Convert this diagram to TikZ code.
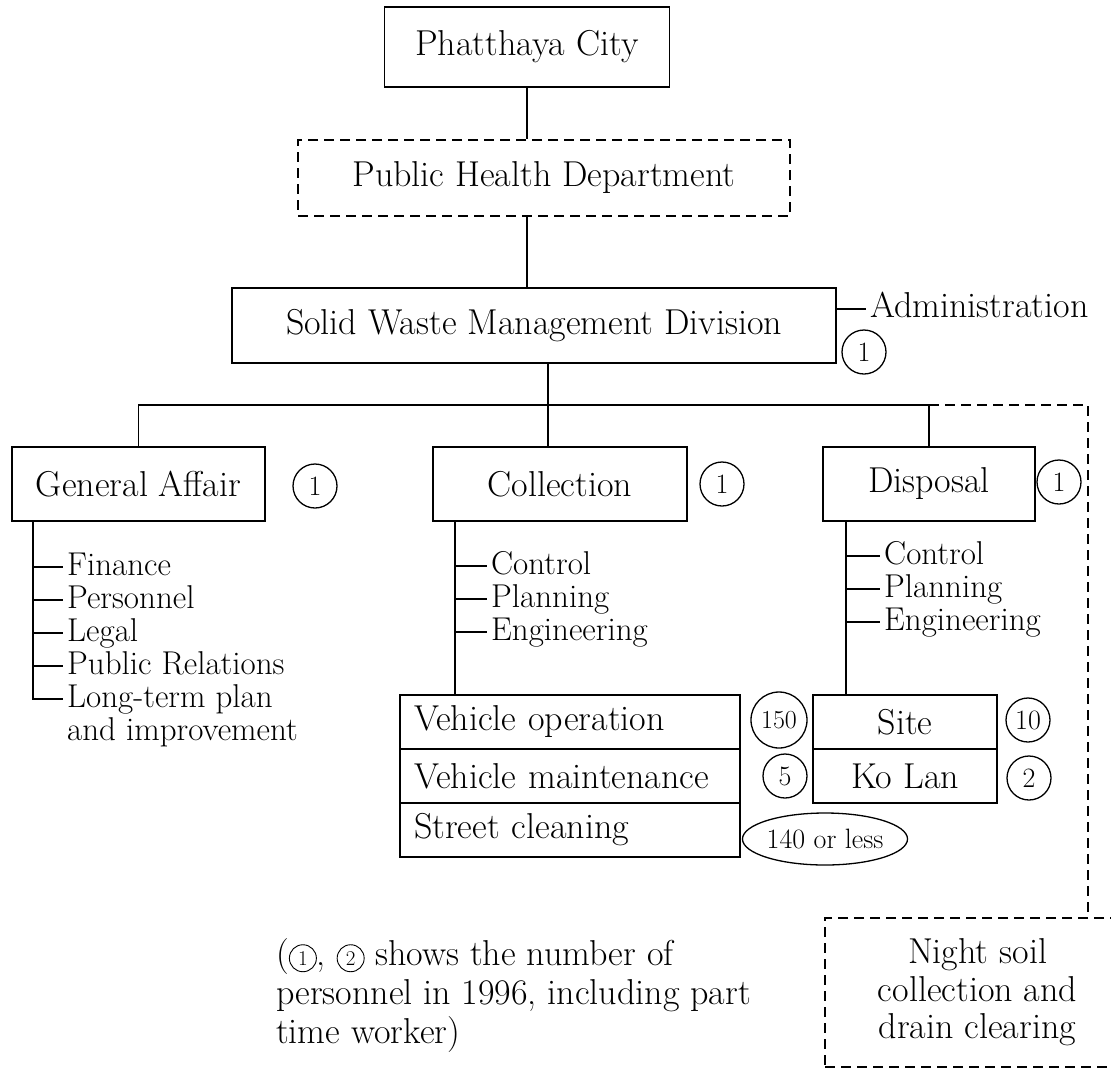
\documentclass[tikz,border=0pt]{standalone}
\usepackage{fontspec}
\usetikzlibrary{shapes.geometric}
% small circled digit used inside running text
\newcommand{\cnum}[1]{\tikz[baseline=(d.base)]\node[draw, circle, line width=0.9pt,
  inner sep=0.5pt, minimum size=27pt, font=\fontsize{21}{21}\selectfont] (d) {#1};}
\begin{document}
\begin{tikzpicture}[x=1pt,y=-1pt,
  every node/.style={font=\fontsize{36}{39}\selectfont},
  unit/.style={draw, line width=1.5pt, inner sep=0pt, minimum height=74pt},
  dunit/.style={unit, dash pattern=on 10pt off 6pt},
  row/.style={draw, line width=1.5pt, minimum height=54pt, inner ysep=0pt},
  count/.style={draw, circle, line width=1.3pt, inner sep=0pt, minimum size=44pt,
    font=\fontsize{28}{30}\selectfont},
  item/.style={anchor=west, inner xsep=4pt, inner ysep=0pt, text height=23pt, text depth=7pt,
    font=\fontsize{33}{36}\selectfont},
  link/.style={line width=1.5pt},
  dlink/.style={line width=1.5pt, dash pattern=on 10pt off 6pt},
]
\useasboundingbox (0,0) rectangle (1111,1069);

% upper chain
\node[unit, minimum width=285pt, minimum height=80pt] (city) at (527,47) {Phatthaya City};
\node[dunit, minimum width=492pt, minimum height=76pt] (health) at (544,178) {Public Health Department};
\node[unit, minimum width=604pt, minimum height=75pt] (swmd) at (534,325.5) {Solid Waste Management Division};
\draw[link] (city.south) -- (city.south |- health.north);
\draw[link] (city.south |- health.south) -- (city.south |- swmd.north);

\node[item, font=\fontsize{36}{39}\selectfont] (admin) at (866,309) {Administration};
\draw[link] (swmd.east |- admin.west) -- (admin.west);
\node[count] (c-swmd) at (864,352) {1};

% sections
\node[unit, minimum width=253pt] (ga) at (138.5,484) {General Affair};
\node[unit, minimum width=254pt] (coll) at (560,484) {Collection};
\node[unit, minimum width=212pt] (disp) at (929,484) {Disposal};
\node[count] (c-ga) at (315,486) {1};
\node[count] (c-coll) at (722,484) {1};
\node[count] (c-disp) at (1059,482) {1};

\coordinate (cj) at (548,405);
\coordinate (rj) at (1088,405);
\draw[link] (swmd.south -| cj) -- (cj |- coll.north);
\draw[link] (ga.north) |- (disp.north |- cj) -- (disp.north);

% night soil unit (dashed link)
\node[dunit, minimum width=305pt, minimum height=149pt, align=center,
  font=\fontsize{36}{37.5}\selectfont] (night) at (977.5,992.5)
  {Night soil\\collection and\\drain clearing};
\draw[dlink] (disp.north |- rj) -- (rj) -- (rj |- night.north);

% General Affair list
\node[item] (fin) at (63,567) {Finance};
\node[item] (pers) at (63,600) {Personnel};
\node[item] (legal) at (63,633) {Legal};
\node[item] (pr) at (63,666) {Public Relations};
\node[item] (ltp) at (63,699) {Long-term plan};
\node[item] (ltp2) at (63,732) {and improvement};
\coordinate (gs) at (33,0);
\draw[link] (gs |- ga.south) -- (gs |- ltp.west) -- (ltp.west);
\foreach \n in {fin,pers,legal,pr} \draw[link] (gs |- \n.west) -- (\n.west);

% Collection list and units
\node[item] (cctl) at (487,566) {Control};
\node[item] (cpln) at (487,599) {Planning};
\node[item] (ceng) at (487,632) {Engineering};
\node[row, text width=312pt, inner xsep=14pt, align=left] (vop) at (570,722) {Vehicle operation};
\node[row, text width=312pt, inner xsep=14pt, align=left] (vmt) at (570,776) {Vehicle maintenance};
\node[row, text width=312pt, inner xsep=14pt, align=left] (strt) at (570,830) {Street cleaning};
\coordinate (cs) at (455,0);
\draw[link] (cs |- coll.south) -- (cs |- vop.north);
\foreach \n in {cctl,cpln,ceng} \draw[link] (cs |- \n.west) -- (\n.west);
\node[count, minimum size=56pt, font=\fontsize{26}{28}\selectfont] (c-vop) at (779,720) {150};
\node[count] (c-vmt) at (785,776) {5};
\node[draw, ellipse, line width=1.3pt, minimum width=154pt, minimum height=52pt, inner sep=0pt,
  font=\fontsize{28}{30}\selectfont] (c-strt) at (825,839) {140 or less};

% Disposal list and units
\node[item] (dctl) at (880,556) {Control};
\node[item] (dpln) at (880,589) {Planning};
\node[item] (deng) at (880,622) {Engineering};
\node[row, minimum width=184pt] (site) at (905,722) {Site};
\node[row, minimum width=184pt] (kolan) at (905,776) {Ko Lan};
\coordinate (ds) at (846,0);
\draw[link] (ds |- disp.south) -- (ds |- site.north);
\foreach \n in {dctl,dpln,deng} \draw[link] (ds |- \n.west) -- (\n.west);
\node[count] (c-site) at (1028,720) {10};
\node[count] (c-kolan) at (1029,778) {2};

% note
\node[anchor=north west, inner sep=0pt, align=left] (note) at (276,938)
  {(\cnum{1}, \cnum{2} shows the number of\\personnel in 1996, including part\\time worker)};
\end{tikzpicture}
\end{document}
